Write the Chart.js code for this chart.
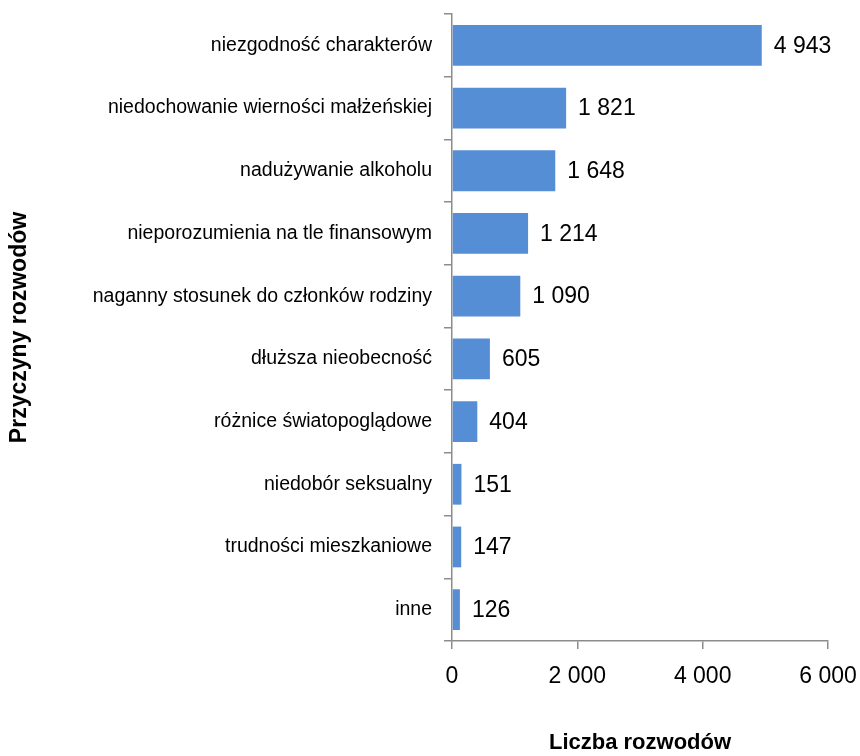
<!DOCTYPE html>
<html>
<head>
<meta charset="utf-8">
<script src="https://cdn.jsdelivr.net/npm/chart.js@4"></script>
<style>
  html, body { margin: 0; padding: 0; background: #fff; }
  #wrap { width: 860px; height: 756px; }
</style>
</head>
<body>
<div id="wrap"><canvas id="chart" width="860" height="756"></canvas></div>
<script>
// przyczyny rozwodów
const categories = [
    'niezgodność charakterów',
    'niedochowanie wierności małżeńskiej',
    'nadużywanie alkoholu',
    'nieporozumienia na tle finansowym',
    'naganny stosunek do członków rodziny',
    'dłuższa nieobecność',
    'różnice światopoglądowe',
    'niedobór seksualny',
    'trudności mieszkaniowe',
    'inne'
];
const divorceCounts = [4943, 1821, 1648, 1214, 1090, 605, 404, 151, 147, 126];
const xTicks = [0, 2000, 4000, 6000];

const FONT = '"Liberation Sans Narrow", "Arial Narrow", "Liberation Sans", Arial, sans-serif';
const AXIS_GRAY = '#8c8c8c';

// liczby w formacie "4 943"
function fmt(v) {
    return String(v).replace(/\B(?=(\d{3})+(?!\d))/g, ' ');
}

// etykiety wartości obok słupków
const valueLabels = {
    id: 'valueLabels',
    afterDatasetsDraw(chart) {
        const ctx = chart.ctx;
        const meta = chart.getDatasetMeta(0);
        ctx.save();
        ctx.font = '23px ' + FONT;
        ctx.fillStyle = '#000';
        ctx.textBaseline = 'middle';
        ctx.textAlign = 'left';
        meta.data.forEach((bar, i) => {
            ctx.fillText(fmt(divorceCounts[i]), bar.x + 12, bar.y + 1);
        });
        ctx.restore();
    }
};

new Chart(document.getElementById('chart'), {
    type: 'bar',
    data: {
        labels: categories,
        datasets: [{
            data: divorceCounts,
            backgroundColor: '#558ed5',
            borderWidth: 0,
            barPercentage: 0.65,
            categoryPercentage: 1
        }]
    },
    options: {
        indexAxis: 'y',
        responsive: false,
        animation: false,
        layout: { padding: { top: 14, right: 32, left: 0, bottom: 0 } },
        plugins: {
            legend: { display: false },
            tooltip: { enabled: false }
        },
        scales: {
            x: {
                min: 0,
                max: 6000,
                afterBuildTicks: (scale) => { scale.ticks = xTicks.map(v => ({ value: v })); },
                afterFit: (scale) => {
                    scale.height = 115;
                    scale.paddingLeft = 0;
                    scale.paddingRight = 0;
                },
                border: { color: AXIS_GRAY, width: 1.5 },
                grid: { drawOnChartArea: false, color: AXIS_GRAY, tickLength: 8, lineWidth: 1.5 },
                ticks: {
                    font: { family: FONT, size: 23 },
                    color: '#000',
                    padding: 14,
                    maxRotation: 0,
                    callback: (v) => fmt(v)
                },
                title: {
                    display: true,
                    text: 'Liczba rozwodów',
                    font: { family: FONT, size: 22, weight: 'bold' },
                    color: '#000',
                    padding: { top: 28, bottom: 0 }
                }
            },
            y: {
                afterFit: (scale) => {
                    scale.width = 452;
                    scale.paddingTop = 0;
                    scale.paddingBottom = 0;
                },
                border: { color: AXIS_GRAY, width: 1.5 },
                grid: { drawOnChartArea: false, color: AXIS_GRAY, tickLength: 8, lineWidth: 1.5, offset: true },
                ticks: {
                    font: { family: FONT, size: 19.5 },
                    color: '#000',
                    padding: 12,
                    autoSkip: false
                },
                title: {
                    display: true,
                    text: 'Przyczyny rozwodów',
                    font: { family: FONT, size: 23, weight: 'bold' },
                    color: '#000',
                    padding: { top: 6, bottom: 0 }
                }
            }
        }
    },
    plugins: [valueLabels]
});
</script>
</body>
</html>
